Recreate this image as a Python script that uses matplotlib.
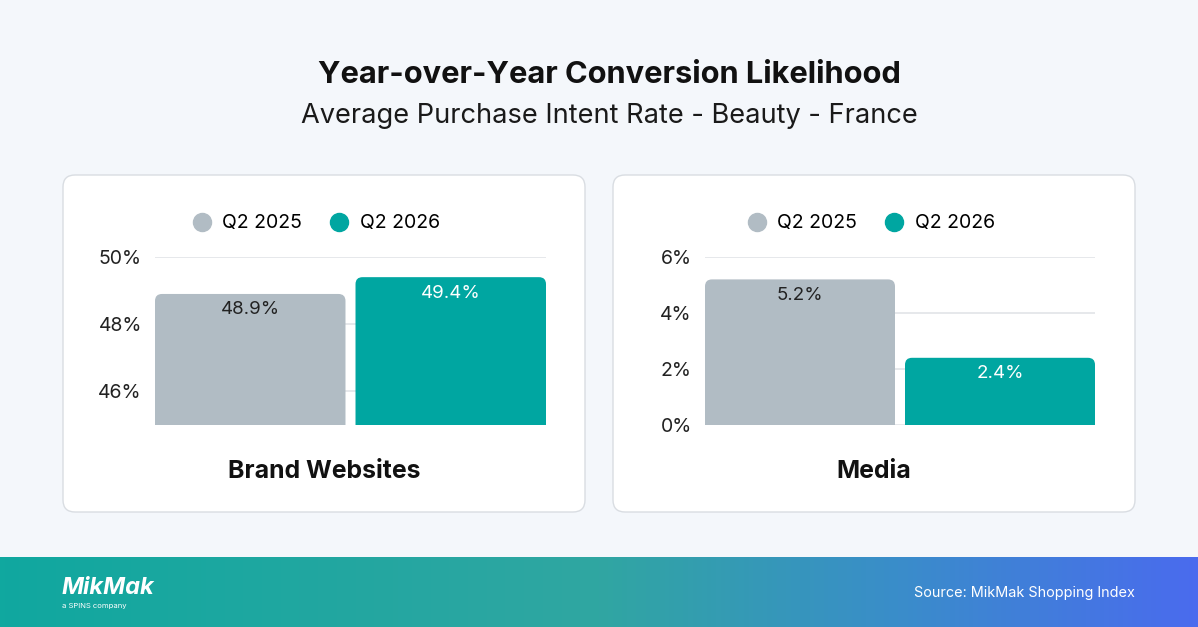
import matplotlib as mpl
mpl.use('Agg')
import matplotlib.pyplot as plt
import numpy as np
from matplotlib.patches import FancyBboxPatch, Rectangle
from matplotlib.lines import Line2D
from matplotlib.colors import LinearSegmentedColormap

plt.rcParams['font.family'] = ['Inter', 'DejaVu Sans']

# ------- data --------
series = ['Q2 2025', 'Q2 2026']
panels = ['Brand Websites', 'Media']
brand_values = [48.9, 49.4]
media_values = [5.2, 2.4]
brand_ticks = [46, 48, 50]
media_ticks = [0, 2, 4, 6]

GRAY = '#b1bcc4'
TEAL = '#00a6a1'
colors = [GRAY, TEAL]
label_colors = ['#222222', 'white']

W, H = 1198, 627
fig = plt.figure(figsize=(W / 100, H / 100), dpi=100)
fig.patch.set_facecolor('#f4f7fb')

# background axes in pixel coordinates
bg = fig.add_axes([0, 0, 1, 1])
bg.set_xlim(0, W)
bg.set_ylim(H, 0)
bg.axis('off')

for x0 in (63, 613):
    bg.add_patch(FancyBboxPatch((x0, 175), 522, 337,
                                boxstyle='round,pad=0,rounding_size=12',
                                fc='white', ec='#d9dde2', lw=1))

# footer gradient
cmap = LinearSegmentedColormap.from_list(
    'foot', [(0, '#10a89f'), (0.5, '#30a6a2'), (0.75, '#3a8dca'), (1, '#4a6bee')])
grad = np.linspace(0, 1, 256).reshape(1, -1)
bg.imshow(grad, cmap=cmap, aspect='auto', extent=(0, W, 627, 557), zorder=1)
bg.set_xlim(0, W)
bg.set_ylim(H, 0)

bg.text(609, 75, 'Year-over-Year Conversion Likelihood', ha='center', va='center',
        fontsize=22.2, fontweight='bold', color='#111111')
bg.text(609, 116, 'Average Purchase Intent Rate - Beauty - France', ha='center',
        va='center', fontsize=19.6, color='#1a1a1a')

bg.text(62, 588, 'MikMak', ha='left', va='center', fontsize=17, fontweight='bold',
        fontstyle='italic', color='white', zorder=3)
bg.text(62, 606, 'a SPINS company', ha='left', va='center', fontsize=5.5,
        color='white', zorder=3)
bg.text(1135, 593, 'Source: MikMak Shopping Index', ha='right', va='center',
        fontsize=10.4, color='white', zorder=3)


def draw_panel(rect, values, ticks, title, title_x, legend_x):
    ax = fig.add_axes(rect)
    ax.set_facecolor('none')
    x = np.arange(len(values))
    bars = ax.bar(x, values, width=0.95, color=colors, zorder=2)
    ax.set_xlim(-0.475, len(values) - 0.525)
    ax.set_ylim(ticks[0] - (1 if ticks[0] else 0), ticks[-1])
    ax.set_yticks(ticks)
    ax.set_yticklabels([f'{t}%' for t in ticks])
    ax.set_xticks([])
    ax.yaxis.grid(True, color='#e2e4e7', lw=1.2, zorder=0)
    ax.set_axisbelow(True)
    for s in ax.spines.values():
        s.set_visible(False)
    ax.tick_params(axis='y', length=0, pad=9.5, labelsize=14, labelcolor='#222222')

    # round the top corners of bars
    fig.canvas.draw()
    bb = ax.get_window_extent()
    x0, x1 = ax.get_xlim()
    y0, y1 = ax.get_ylim()
    xpp = (x1 - x0) / bb.width
    ypp = (y1 - y0) / bb.height
    r = 7 * xpp
    for b, c in zip(bars, colors):
        bx, bw, bh = b.get_x(), b.get_width(), b.get_height()
        b.set_visible(False)
        bottom = y0 - 20 * ypp
        ax.add_patch(FancyBboxPatch((bx, bottom), bw, bh - bottom,
                                    boxstyle=f'round,pad=0,rounding_size={r}',
                                    mutation_aspect=ypp / xpp, fc=c, ec='none',
                                    zorder=2, clip_on=True))
    for xi, v, lc in zip(x, values, label_colors):
        ax.annotate(f'{v}%', (xi, v), xytext=(0, -11.5), textcoords='offset points',
                    ha='center', va='center', fontsize=13.5, color=lc, zorder=3)

    handles = [Line2D([], [], marker='o', ls='none', ms=13, mfc=c, mec=c)
               for c in colors]
    fig.legend(handles, series, loc='center', ncol=2, frameon=False,
               bbox_to_anchor=(legend_x / W, 1 - 223.5 / H), fontsize=14,
               handletextpad=0.45, columnspacing=1.3, handlelength=1.2)
    bg.text(title_x, 471, title, ha='center', va='center', fontsize=17.9,
            fontweight='bold', color='#111111')
    return ax


draw_panel([155 / W, 202 / H, 391 / W, 168 / H], brand_values, brand_ticks,
           panels[0], 324, 315)
draw_panel([705 / W, 202 / H, 390 / W, 168 / H], media_values, media_ticks,
           panels[1], 874, 870)

fig.savefig('out.png', dpi=100, facecolor=fig.get_facecolor())
